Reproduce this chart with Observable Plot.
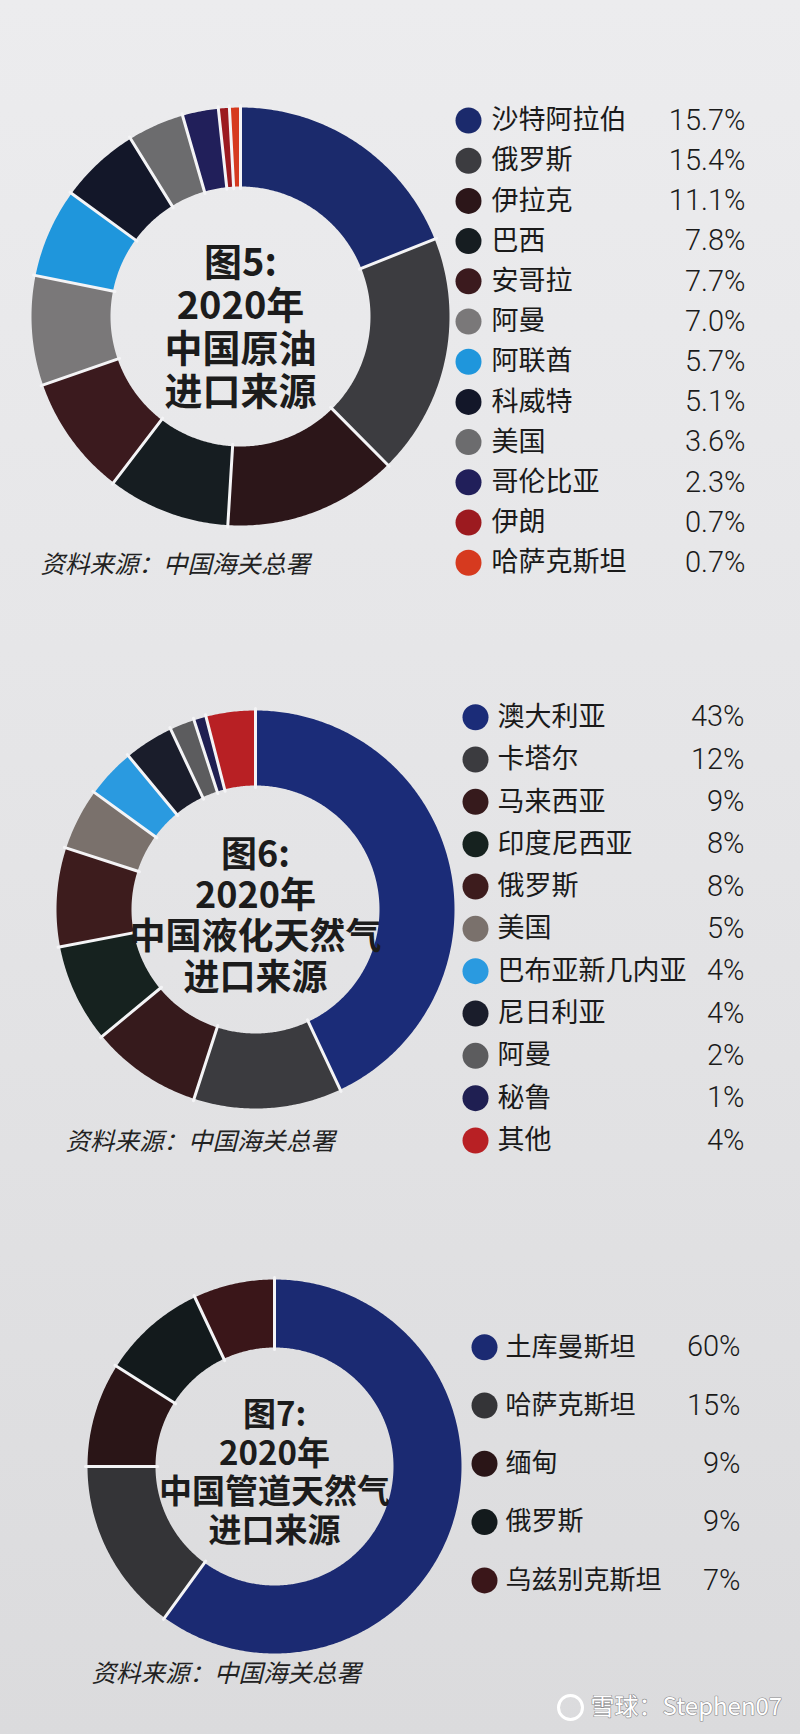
<!DOCTYPE html>
<html>
<head>
<meta charset="utf-8">
<script src="https://cdn.jsdelivr.net/npm/d3@7"></script>
<script src="https://cdn.jsdelivr.net/npm/@observablehq/plot@0.6"></script>
<style>
html, body { margin: 0; padding: 0; }
body {
  width: 800px; height: 1734px; overflow: hidden;
  background: linear-gradient(180deg, #ececee 0%, #e4e4e6 50%, #dbdbdd 100%);
}
#charts svg { display: block; }
</style>
</head>
<body>
<div id="charts"></div>
<script>
// ---------- Figure 5: crude oil ----------
const oilCountries = ["沙特阿拉伯", "俄罗斯", "伊拉克", "巴西", "安哥拉", "阿曼", "阿联酋", "科威特", "美国", "哥伦比亚", "伊朗", "哈萨克斯坦"];
const oilShares = [15.7, 15.4, 11.1, 7.8, 7.7, 7.0, 5.7, 5.1, 3.6, 2.3, 0.7, 0.7];
const oilColors = ["#1b2a6c", "#3c3c40", "#2c1619", "#161d21", "#3b1a1e", "#7a7879", "#1f96dc", "#131729", "#6c6c6e", "#211f5a", "#9c1a1f", "#d63a1f"];
const oilTitle = ["图5:", "2020年", "中国原油", "进口来源"];

// ---------- Figure 6: LNG ----------
const lngCountries = ["澳大利亚", "卡塔尔", "马来西亚", "印度尼西亚", "俄罗斯", "美国", "巴布亚新几内亚", "尼日利亚", "阿曼", "秘鲁", "其他"];
const lngShares = [43, 12, 9, 8, 8, 5, 4, 4, 2, 1, 4];
const lngColors = ["#1b2c78", "#3b3b3f", "#361a1c", "#16221f", "#3d1c1d", "#7a716c", "#2a9ae0", "#1a1d2b", "#5c5c5e", "#1f1f52", "#b82024"];
const lngTitle = ["图6:", "2020年", "中国液化天然气", "进口来源"];

// ---------- Figure 7: pipeline gas ----------
const pipeCountries = ["土库曼斯坦", "哈萨克斯坦", "缅甸", "俄罗斯", "乌兹别克斯坦"];
const pipeShares = [60, 15, 9, 9, 7];
const pipeColors = ["#1b2a72", "#343437", "#2a1517", "#131a1c", "#3a1619"];
const pipeTitle = ["图7:", "2020年", "中国管道天然气", "进口来源"];

const sourceNote = "资料来源：中国海关总署";
const watermark = "雪球：Stephen07";

function arcRing(cx, cy, r0, r1, a0, a1) {
  const n = Math.max(2, Math.ceil((a1 - a0) / 0.01));
  const pts = [];
  for (let k = 0; k <= n; k++) {
    const a = a0 + (a1 - a0) * k / n;
    pts.push([cx + r1 * Math.sin(a), cy - r1 * Math.cos(a)]);
  }
  for (let k = n; k >= 0; k--) {
    const a = a0 + (a1 - a0) * k / n;
    pts.push([cx + r0 * Math.sin(a), cy - r0 * Math.cos(a)]);
  }
  pts.push(pts[0]);
  return pts;
}

function donutChart(cfg) {
  const data = cfg.names.map((name, i) => ({name, share: cfg.shares[i]}));
  const arcs = d3.pie().sort(null).value(d => d.share)(data);
  const slices = arcs.map(a => ({
    type: "Feature",
    properties: {name: a.data.name},
    geometry: {type: "Polygon", coordinates: [arcRing(cfg.cx, cfg.cy, cfg.r0, cfg.r1, a.startAngle, a.endAngle)]}
  }));
  const seps = arcs.map(a => ({
    type: "LineString",
    coordinates: [
      [cfg.cx + (cfg.r0 - 2) * Math.sin(a.startAngle), cfg.cy - (cfg.r0 - 2) * Math.cos(a.startAngle)],
      [cfg.cx + (cfg.r1 + 2) * Math.sin(a.startAngle), cfg.cy - (cfg.r1 + 2) * Math.cos(a.startAngle)]
    ]
  }));
  const rowY = (i) => cfg.legendY0 + cfg.legendStep * i;
  const fmt = d3.format(cfg.fmt);
  const domainRect = {type: "Polygon", coordinates: [[[0, cfg.top], [800, cfg.top], [800, cfg.bottom], [0, cfg.bottom], [0, cfg.top]]]};

  const marks = [
    Plot.geo(slices, {fill: d => d.properties.name, stroke: "none"}),
    Plot.geo(seps, {stroke: "#f4f4f6", strokeWidth: 3}),
    Plot.text([cfg.title.join("\n")], {
      x: () => cfg.cx, y: () => cfg.titleMid, text: d => d,
      lineHeight: cfg.titleStep / cfg.titleSize,
      fontSize: cfg.titleSize, fontWeight: 700, fill: "#1c1c1c",
      fontFamily: "'Noto Sans CJK SC', sans-serif", textAnchor: "middle"
    }),
    Plot.dot(data, {x: () => cfg.dotX, y: (d, i) => rowY(i), r: 13, fill: "name", stroke: "none"}),
    Plot.text(data, {
      x: () => cfg.labelX, y: (d, i) => rowY(i), text: "name", textAnchor: "start",
      fontSize: cfg.labelSize, fill: "#1a1a1a", fontFamily: "'Noto Sans CJK SC', sans-serif"
    }),
    Plot.text(data, {
      x: () => cfg.valueX, y: (d, i) => rowY(i), text: d => fmt(d.share) + "%", textAnchor: "end",
      fontSize: 29, fontWeight: 300, fill: "#1a1a1a", fontFamily: "Roboto, 'Liberation Sans', sans-serif"
    }),
    Plot.text([sourceNote], {
      x: () => cfg.noteX, y: () => cfg.noteY, text: d => d, textAnchor: "start",
      fontSize: 24.5, fontStyle: "italic", fill: "#222", fontFamily: "'Noto Sans CJK SC', sans-serif"
    })
  ];
  if (cfg.watermark) {
    marks.push(
      Plot.dot([cfg.watermark], {x: () => cfg.wmX - 20, y: () => cfg.wmY, r: 12, stroke: "#ffffff", strokeWidth: 3, fill: "none"}),
      Plot.text([cfg.watermark], {
        x: () => cfg.wmX, y: () => cfg.wmY, text: d => d, textAnchor: "start",
        fontSize: 24, fill: "#ffffff", stroke: "#8a8a8c", strokeWidth: 1.2, paintOrder: "stroke",
        fontFamily: "'Liberation Sans Narrow', 'Noto Sans CJK SC', sans-serif"
      })
    );
  }
  return Plot.plot({
    width: 800,
    height: cfg.bottom - cfg.top,
    margin: 0,
    projection: {type: "identity", domain: domainRect},
    color: {type: "ordinal", domain: cfg.names, range: cfg.colors},
    style: {background: "transparent", overflow: "visible"},
    marks
  });
}

const holder = document.getElementById("charts");
holder.append(donutChart({
  names: oilCountries, shares: oilShares, colors: oilColors, title: oilTitle, fmt: ".1f",
  top: 0, bottom: 640, cx: 240, cy: 316, r0: 130, r1: 209,
  titleMid: 326, titleStep: 43, titleSize: 38,
  legendY0: 120, legendStep: 40.2, dotX: 468, labelX: 491, valueX: 745, labelSize: 27,
  noteX: 40, noteY: 565
}));
holder.append(donutChart({
  names: lngCountries, shares: lngShares, colors: lngColors, title: lngTitle, fmt: "d",
  top: 640, bottom: 1210, cx: 255, cy: 909, r0: 124, r1: 199,
  titleMid: 915, titleStep: 40.7, titleSize: 36,
  legendY0: 716.7, legendStep: 42.33, dotX: 475, labelX: 497, valueX: 744, labelSize: 27,
  noteX: 65, noteY: 1142
}));
holder.append(donutChart({
  names: pipeCountries, shares: pipeShares, colors: pipeColors, title: pipeTitle, fmt: "d",
  top: 1210, bottom: 1734, cx: 274, cy: 1466, r0: 119, r1: 187,
  titleMid: 1471, titleStep: 38.5, titleSize: 33,
  legendY0: 1346.7, legendStep: 58.3, dotX: 484, labelX: 505, valueX: 740, labelSize: 26,
  noteX: 91, noteY: 1674,
  watermark: watermark, wmX: 590, wmY: 1707
}));
</script>
</body>
</html>
